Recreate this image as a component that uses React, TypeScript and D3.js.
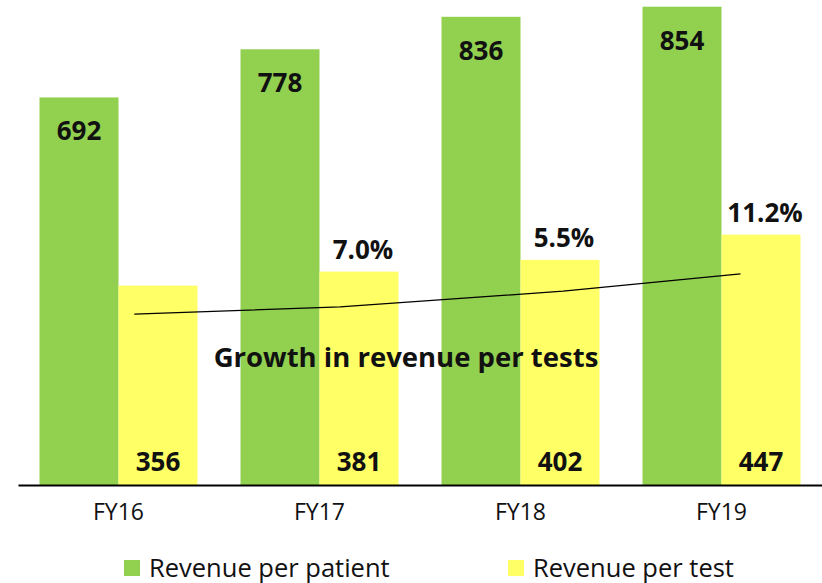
import React, { useRef, useEffect } from 'react';
import * as d3 from 'd3';

const years = ['FY16', 'FY17', 'FY18', 'FY19'];
const revenuePerPatient = [692, 778, 836, 854];
const revenuePerTest = [356, 381, 402, 447];
const growthLabels = ['', '7.0%', '5.5%', '11.2%'];
// hand drawn growth line (value on the bar scale, spot inside the group)
const trendValues = [305, 318, 346, 377];
const trendSpot = [0.6, 0.63, 0.77, 0.62];
const seriesNames = ['Revenue per patient', 'Revenue per test'];
const seriesColors = ['#92D050', '#FFFF66'];
const growthTitle = 'Growth in revenue per tests';

const FONT = '"Open Sans", "DejaVu Sans", sans-serif';

const App = () => {
  const svgRef = useRef<SVGSVGElement>(null);

  useEffect(() => {
    const svg = d3.select(svgRef.current);
    svg.selectAll('*').remove();

    const width = 822;
    const height = 583;
    const baseY = 485;

    const x = d3.scaleBand()
      .domain(years)
      .range([18, 822])
      .paddingInner(0.214)
      .paddingOuter(0.107);

    const inner = d3.scaleBand()
      .domain(['patient', 'test'])
      .range([0, x.bandwidth()]);

    const y = d3.scaleLinear()
      .domain([0, 866])
      .range([baseY, 0]);

    const rows = years.map((yr, i) => ({
      year: yr,
      patient: revenuePerPatient[i],
      test: revenuePerTest[i],
      growth: growthLabels[i],
    }));

    const g = svg.append('g');

    // green bars
    g.selectAll('.bar-patient')
      .data(rows)
      .enter().append('rect')
      .attr('class', 'bar-patient')
      .attr('x', d => x(d.year)! + inner('patient')!)
      .attr('y', d => y(d.patient))
      .attr('width', inner.bandwidth())
      .attr('height', d => baseY - y(d.patient))
      .attr('fill', seriesColors[0]);

    // yellow bars
    g.selectAll('.bar-test')
      .data(rows)
      .enter().append('rect')
      .attr('class', 'bar-test')
      .attr('x', d => x(d.year)! + inner('test')!)
      .attr('y', d => y(d.test))
      .attr('width', inner.bandwidth())
      .attr('height', d => baseY - y(d.test))
      .attr('fill', seriesColors[1]);

    // value labels
    g.selectAll('.lbl-patient')
      .data(rows)
      .enter().append('text')
      .attr('x', d => x(d.year)! + inner('patient')! + inner.bandwidth() / 2)
      .attr('y', d => y(d.patient) + 43)
      .attr('text-anchor', 'middle')
      .attr('font-family', FONT)
      .attr('font-weight', 700)
      .attr('font-size', 26)
      .attr('fill', '#111')
      .text(d => d.patient);

    g.selectAll('.lbl-test')
      .data(rows)
      .enter().append('text')
      .attr('x', d => x(d.year)! + inner('test')! + inner.bandwidth() / 2)
      .attr('y', baseY - 14)
      .attr('text-anchor', 'middle')
      .attr('font-family', FONT)
      .attr('font-weight', 700)
      .attr('font-size', 26)
      .attr('fill', '#111')
      .text(d => d.test);

    g.selectAll('.lbl-growth')
      .data(rows.filter(d => d.growth))
      .enter().append('text')
      .attr('x', d => x(d.year)! + inner('test')! + inner.bandwidth() / 2 + 4)
      .attr('y', d => y(d.test) - 13)
      .attr('text-anchor', 'middle')
      .attr('font-family', FONT)
      .attr('font-weight', 700)
      .attr('font-size', 26)
      .attr('fill', '#111')
      .text(d => d.growth);

    // growth line
    const line = d3.line<number>()
      .x((_, i) => x(years[i])! + x.bandwidth() * trendSpot[i])
      .y(d => y(d));

    g.append('path')
      .datum(trendValues)
      .attr('d', line)
      .attr('fill', 'none')
      .attr('stroke', '#000')
      .attr('stroke-width', 1.3);

    g.append('text')
      .attr('x', 406)
      .attr('y', 367)
      .attr('text-anchor', 'middle')
      .attr('font-family', FONT)
      .attr('font-weight', 700)
      .attr('font-size', 27.5)
      .attr('fill', '#111')
      .text(growthTitle);

    // x axis
    const axis = g.append('g')
      .attr('transform', `translate(0,${baseY})`)
      .call(d3.axisBottom(x).tickSize(0).tickPadding(18).tickSizeOuter(0));
    axis.select('.domain')
      .attr('stroke', '#000')
      .attr('stroke-width', 2);
    axis.selectAll('text')
      .attr('dy', null)
      .attr('y', 35)
      .attr('font-family', FONT)
      .attr('font-size', 23)
      .attr('fill', '#111');

    // legend
    const legendX = [124, 508];
    const legend = g.selectAll('.legend')
      .data(seriesNames)
      .enter().append('g')
      .attr('transform', (_, i) => `translate(${legendX[i]},560)`);
    legend.append('rect')
      .attr('width', 16)
      .attr('height', 16)
      .attr('fill', (_, i) => seriesColors[i]);
    legend.append('text')
      .attr('x', 25)
      .attr('y', 17)
      .attr('font-family', FONT)
      .attr('font-size', 25.5)
      .attr('fill', '#111')
      .text(d => d);

    svg.attr('width', width).attr('height', height);
  }, []);

  return (
    <svg
      ref={svgRef}
      width={822}
      height={583}
      style={{ position: 'absolute', left: 0, top: 0, background: '#fff' }}
    />
  );
};

export default App;
